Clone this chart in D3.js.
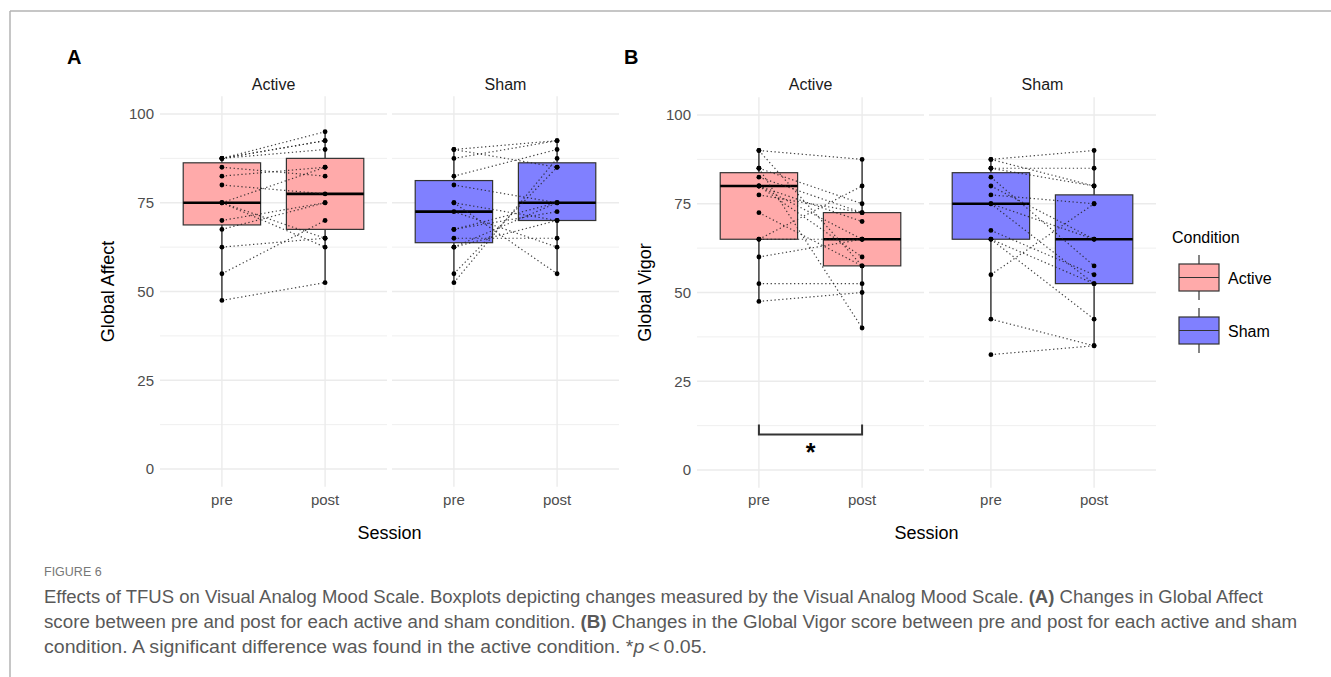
<!DOCTYPE html>
<html>
<head>
<meta charset="utf-8">
<script src="https://cdn.jsdelivr.net/npm/d3@7"></script>
<style>
  body { margin: 0; background: #fff; }
  text { font-family: "Liberation Sans", Arial, sans-serif; }
</style>
</head>
<body>
<script>
// paired scores, one entry per subject (pre[i] -> post[i])
var sessions = ["pre", "post"];
var conditions = ["Active", "Sham"];
var yTicks = [0, 25, 50, 75, 100];
var yMinor = [12.5, 37.5, 62.5, 87.5];

var affectActivePre  = [87.5, 87.5, 87.5, 87.5, 85, 82.5, 80, 75, 75, 75, 70, 67.5, 62.5, 55, 47.5];
var affectActivePost = [95, 92.5, 92.5, 90, 82.5, 85, 77.5, 85, 65, 62.5, 75, 75, 65, 70, 52.5];
var affectShamPre    = [90, 90, 87.5, 82.5, 80, 75, 75, 72.5, 67.5, 67.5, 65, 62.5, 62.5, 55, 52.5];
var affectShamPost   = [92.5, 85, 92.5, 90, 75, 70, 55, 62.5, 75, 72.5, 65, 70, 75, 85, 87.5];

var vigorActivePre   = [90, 90, 85, 85, 82.5, 80, 80, 80, 77.5, 72.5, 65, 65, 60, 52.5, 47.5];
var vigorActivePost  = [87.5, 57.5, 40, 75, 72.5, 70, 65, 60, 72.5, 57.5, 80, 65, 65, 52.5, 50];
var vigorShamPre     = [87.5, 87.5, 85, 85, 82.5, 80, 77.5, 75, 75, 67.5, 65, 65, 55, 42.5, 32.5];
var vigorShamPost    = [90, 80, 85, 80, 57.5, 65, 75, 52.5, 65, 55, 42.5, 52.5, 75, 35, 35];

var colors = { Active: "#FFAAAA", Sham: "#8080FF" };

var W = 1331, H = 677;
var svg = d3.select("body").append("svg")
    .attr("width", W).attr("height", H);

// page frame
svg.append("line").attr("x1", 10).attr("x2", W).attr("y1", 11).attr("y2", 11)
   .attr("stroke", "#b3b3b3").attr("stroke-width", 1.5);
svg.append("line").attr("x1", 10).attr("x2", 10).attr("y1", 11).attr("y2", H)
   .attr("stroke", "#b3b3b3").attr("stroke-width", 1.5);

function boxStats(vals) {
  var s = vals.slice().sort(d3.ascending);
  var q1 = d3.quantile(s, 0.25), med = d3.quantile(s, 0.5), q3 = d3.quantile(s, 0.75);
  var iqr = q3 - q1;
  var lo = d3.min(s.filter(function(v){ return v >= q1 - 1.5 * iqr; }));
  var hi = d3.max(s.filter(function(v){ return v <= q3 + 1.5 * iqr; }));
  return { q1: q1, med: med, q3: q3, lo: lo, hi: hi };
}

function drawPanel(opt) {
  var g = svg.append("g");
  var y = d3.scaleLinear().domain([0, 100]).range([opt.y0, opt.y100]);
  var top = y(105), bottom = y(-5);
  var pw = 227, gap = 5;

  // y axis labels
  yTicks.forEach(function(t){
    g.append("text").attr("x", opt.left - 6).attr("y", y(t)).attr("dy", "0.35em")
      .attr("text-anchor", "end").attr("font-size", 15).attr("fill", "#4d4d4d").text(t);
  });
  g.append("text")
    .attr("transform", "translate(" + (opt.left - 52) + "," + ((top + bottom) / 2) + ") rotate(-90)")
    .attr("text-anchor", "middle").attr("dy", "0.35em").attr("font-size", 18).attr("fill", "#000")
    .text(opt.ylab);

  conditions.forEach(function(cond, ci){
    var l = opt.left + ci * (pw + gap);
    var x = d3.scalePoint().domain(sessions).range([l, l + pw]).padding(0.6);
    var bw = x.step() * 0.75;
    var pre = opt.data[cond][0], post = opt.data[cond][1];

    // grid
    yMinor.forEach(function(t){
      g.append("line").attr("x1", l).attr("x2", l + pw).attr("y1", y(t)).attr("y2", y(t))
        .attr("stroke", "#ebebeb").attr("stroke-width", 0.8);
    });
    yTicks.forEach(function(t){
      g.append("line").attr("x1", l).attr("x2", l + pw).attr("y1", y(t)).attr("y2", y(t))
        .attr("stroke", "#ebebeb").attr("stroke-width", 1.4);
    });
    sessions.forEach(function(s){
      g.append("line").attr("x1", x(s)).attr("x2", x(s)).attr("y1", top).attr("y2", bottom)
        .attr("stroke", "#ebebeb").attr("stroke-width", 1.4);
      g.append("text").attr("x", x(s)).attr("y", 500).attr("dy", "0.35em")
        .attr("text-anchor", "middle").attr("font-size", 15).attr("fill", "#4d4d4d").text(s);
    });

    // strip
    g.append("text").attr("x", l + pw / 2).attr("y", opt.stripY).attr("dy", "0.35em")
      .attr("text-anchor", "middle").attr("font-size", 16).attr("fill", "#1a1a1a").text(cond);

    // boxes
    [pre, post].forEach(function(vals, si){
      var st = boxStats(vals), cx = x(sessions[si]);
      g.append("line").attr("x1", cx).attr("x2", cx).attr("y1", y(st.q3)).attr("y2", y(st.hi))
        .attr("stroke", "#222").attr("stroke-width", 1.3);
      g.append("line").attr("x1", cx).attr("x2", cx).attr("y1", y(st.q1)).attr("y2", y(st.lo))
        .attr("stroke", "#222").attr("stroke-width", 1.3);
      g.append("rect").attr("x", cx - bw / 2).attr("width", bw)
        .attr("y", y(st.q3)).attr("height", y(st.q1) - y(st.q3))
        .attr("fill", colors[cond]).attr("stroke", "#333").attr("stroke-width", 1.2);
      g.append("line").attr("x1", cx - bw / 2).attr("x2", cx + bw / 2)
        .attr("y1", y(st.med)).attr("y2", y(st.med))
        .attr("stroke", "#000").attr("stroke-width", 2.6);
    });

    // paired lines
    g.selectAll(null).data(d3.range(pre.length)).enter().append("line")
      .attr("x1", x("pre")).attr("x2", x("post"))
      .attr("y1", function(i){ return y(pre[i]); })
      .attr("y2", function(i){ return y(post[i]); })
      .attr("stroke", "#222").attr("stroke-width", 1.2)
      .attr("stroke-dasharray", "1.3,2.6").attr("opacity", 0.85);

    // points
    [pre, post].forEach(function(vals, si){
      g.selectAll(null).data(vals).enter().append("circle")
        .attr("cx", x(sessions[si])).attr("cy", function(d){ return y(d); })
        .attr("r", 2.4).attr("fill", "#000");
    });

    if (opt.sig && cond === "Active") {
      var by = y(opt.sig[0]), bt = y(opt.sig[1]);
      g.append("path")
        .attr("d", "M" + x("pre") + "," + bt + "V" + by + "H" + x("post") + "V" + bt)
        .attr("fill", "none").attr("stroke", "#333").attr("stroke-width", 2);
      g.append("text").attr("x", (x("pre") + x("post")) / 2).attr("y", by + 26)
        .attr("text-anchor", "middle").attr("font-size", 25).attr("font-weight", "bold")
        .attr("fill", "#000").text("*");
    }
  });

  g.append("text").attr("x", opt.left + pw + gap / 2).attr("y", 533).attr("dy", "0.35em")
    .attr("text-anchor", "middle").attr("font-size", 18).attr("fill", "#000").text("Session");

  g.append("text").attr("x", opt.tagX).attr("y", 57).attr("dy", "0.35em")
    .attr("font-size", 20).attr("font-weight", "bold").attr("fill", "#000").text(opt.tag);
}

drawPanel({
  tag: "A", tagX: 67, left: 160, y0: 469, y100: 114, stripY: 84, ylab: "Global Affect",
  data: { Active: [affectActivePre, affectActivePost], Sham: [affectShamPre, affectShamPost] }
});
drawPanel({
  tag: "B", tagX: 624, left: 697, y0: 470, y100: 115, stripY: 84, ylab: "Global Vigor",
  data: { Active: [vigorActivePre, vigorActivePost], Sham: [vigorShamPre, vigorShamPost] },
  sig: [10, 12.8]
});

// legend
var lg = svg.append("g");
lg.append("text").attr("x", 1172).attr("y", 237).attr("dy", "0.35em")
  .attr("font-size", 16).attr("fill", "#000").text("Condition");
conditions.forEach(function(c, i){
  var ty = 264 + i * 53;
  lg.append("line").attr("x1", 1199).attr("x2", 1199).attr("y1", ty - 9).attr("y2", ty + 36)
    .attr("stroke", "#333").attr("stroke-width", 1.2);
  lg.append("rect").attr("x", 1179).attr("y", ty).attr("width", 40).attr("height", 27)
    .attr("fill", colors[c]).attr("stroke", "#333").attr("stroke-width", 1.2);
  lg.append("line").attr("x1", 1179).attr("x2", 1219).attr("y1", ty + 13.5).attr("y2", ty + 13.5)
    .attr("stroke", "#333").attr("stroke-width", 1.2);
  lg.append("text").attr("x", 1228).attr("y", ty + 14).attr("dy", "0.35em")
    .attr("font-size", 16).attr("fill", "#000").text(c);
});

// caption
var cap = svg.append("g").attr("fill", "#595959");
var capFont = '"Liberation Sans Narrow", "Open Sans", sans-serif';
cap.append("text").attr("x", 44).attr("y", 576).attr("font-size", 12.5)
  .attr("font-family", capFont).attr("fill", "#777").text("FIGURE 6");

var l1 = cap.append("text").attr("x", 44).attr("y", 603).attr("font-size", 17.5)
  .attr("font-family", capFont).attr("textLength", 1219).attr("lengthAdjust", "spacingAndGlyphs");
l1.append("tspan").text("Effects of TFUS on Visual Analog Mood Scale. Boxplots depicting changes measured by the Visual Analog Mood Scale. ");
l1.append("tspan").attr("font-weight", "bold").text("(A)");
l1.append("tspan").text(" Changes in Global Affect");

var l2 = cap.append("text").attr("x", 44).attr("y", 628).attr("font-size", 17.5)
  .attr("font-family", capFont).attr("textLength", 1253).attr("lengthAdjust", "spacingAndGlyphs");
l2.append("tspan").text("score between pre and post for each active and sham condition. ");
l2.append("tspan").attr("font-weight", "bold").text("(B)");
l2.append("tspan").text(" Changes in the Global Vigor score between pre and post for each active and sham");

var l3 = cap.append("text").attr("x", 44).attr("y", 653).attr("font-size", 17.5)
  .attr("font-family", capFont).attr("textLength", 663).attr("lengthAdjust", "spacingAndGlyphs");
l3.append("tspan").text("condition. A significant difference was found in the active condition. *");
l3.append("tspan").attr("font-style", "italic").text("p");
l3.append("tspan").text("\u2009<\u20090.05.");
</script>
</body>
</html>
